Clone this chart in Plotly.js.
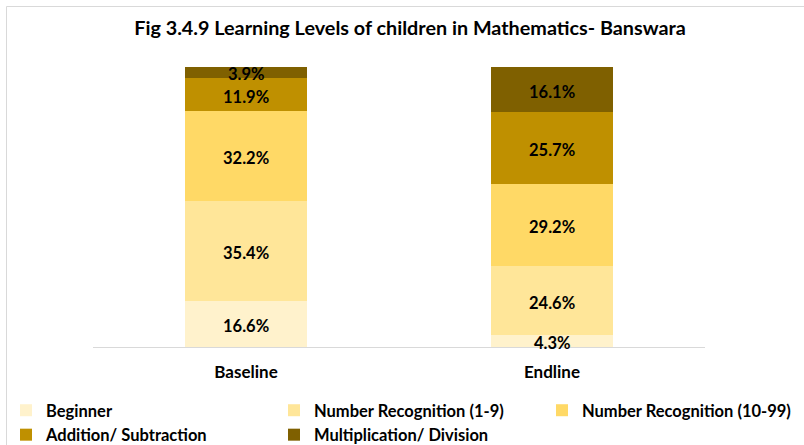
<!DOCTYPE html>
<html>
<head>
<meta charset="utf-8">
<script src="https://cdn.plot.ly/plotly-3.0.1.min.js"></script>
<style>html,body{margin:0;padding:0;background:#fff;}#chart{width:804px;height:445px;}</style>
</head>
<body>
<div id="chart"></div>
<script>
const categories = ["Baseline", "Endline"];
const seriesNames = ["Beginner", "Number Recognition (1-9)", "Number Recognition (10-99)", "Addition/ Subtraction", "Multiplication/ Division"];
const beginner = [16.6, 4.3];
const numRec19 = [35.4, 24.6];
const numRec1099 = [32.2, 29.2];
const addSub = [11.9, 25.7];
const mulDiv = [3.9, 16.1];
const colors = ["#FFF2CC", "#FFE699", "#FFD966", "#BF9000", "#7F6000"];
// legend column of each series (reference legend is a 3-column grid)
const legendIds = ["legend", "legend2", "legend3", "legend", "legend2"];

const FONT = "Lato, 'Open Sans', sans-serif";
const values = [beginner, numRec19, numRec1099, addSub, mulDiv];
const traces = values.map((v, i) => ({
  type: "bar",
  name: seriesNames[i],
  legend: legendIds[i],
  x: categories,
  y: v,
  marker: {color: colors[i], line: {width: 0}},
  hoverinfo: "none"
}));

// data labels centred in each stacked segment
const labelFont = {family: FONT, size: 16.5, color: "#000", weight: "bold"};
const annotations = [];
categories.forEach((c, ci) => {
  let base = 0;
  values.forEach(v => {
    annotations.push({x: c, y: base + v[ci] / 2, xref: "x", yref: "y", text: v[ci].toFixed(1) + "%",
                      showarrow: false, font: labelFont, yshift: -2, xanchor: "center", yanchor: "middle"});
    base += v[ci];
  });
});

const ml = 93, mr = 99, mt = 67, mb = 98;
const pw = 804 - ml - mr, ph = 445 - mt - mb;
const legFont = {family: FONT, size: 16.5, color: "#000", weight: "bold"};
function leg(xpx) {
  return {orientation: "v", xref: "container", yref: "container", x: xpx / 804, y: 1 - 393 / 445,
          xanchor: "left", yanchor: "top", traceorder: "normal", tracegroupgap: 0,
          font: legFont, itemwidth: 30, bgcolor: "rgba(0,0,0,0)", borderwidth: 0};
}
const layout = {
  width: 804, height: 445,
  margin: {l: ml, r: mr, t: mt, b: mb, autoexpand: false},
  paper_bgcolor: "#fff", plot_bgcolor: "#fff",
  barmode: "stack",
  bargap: 0.6,
  showlegend: true,
  title: {text: "Fig 3.4.9 Learning Levels of children in Mathematics- Banswara",
          font: {family: FONT, size: 19.8, color: "#000", weight: "bold"},
          x: 410 / 804, xanchor: "center", xref: "container", y: 1 - 28 / 445, yanchor: "middle", yref: "container"},
  xaxis: {showline: true, linecolor: "#D9D9D9", linewidth: 1, ticks: "", showgrid: false, automargin: false,
          tickfont: {family: FONT, size: 17, color: "#000", weight: "bold"}, ticklabelstandoff: 10},
  yaxis: {range: [0, 100], visible: false, showgrid: false, zeroline: false, automargin: false},
  legend: leg(6),
  legend2: leg(274),
  legend3: leg(542),
  annotations: annotations,
  shapes: [{type: "rect", xref: "paper", yref: "paper",
            x0: (6.5 - ml) / pw, x1: (820 - ml) / pw,
            y0: (445 - mb - 460) / ph, y1: (445 - mb - 6.5) / ph,
            line: {color: "#D9D9D9", width: 1}, fillcolor: "rgba(0,0,0,0)", layer: "below"}]
};
Plotly.newPlot("chart", traces, layout, {displayModeBar: false, staticPlot: true});
</script>
</body>
</html>
